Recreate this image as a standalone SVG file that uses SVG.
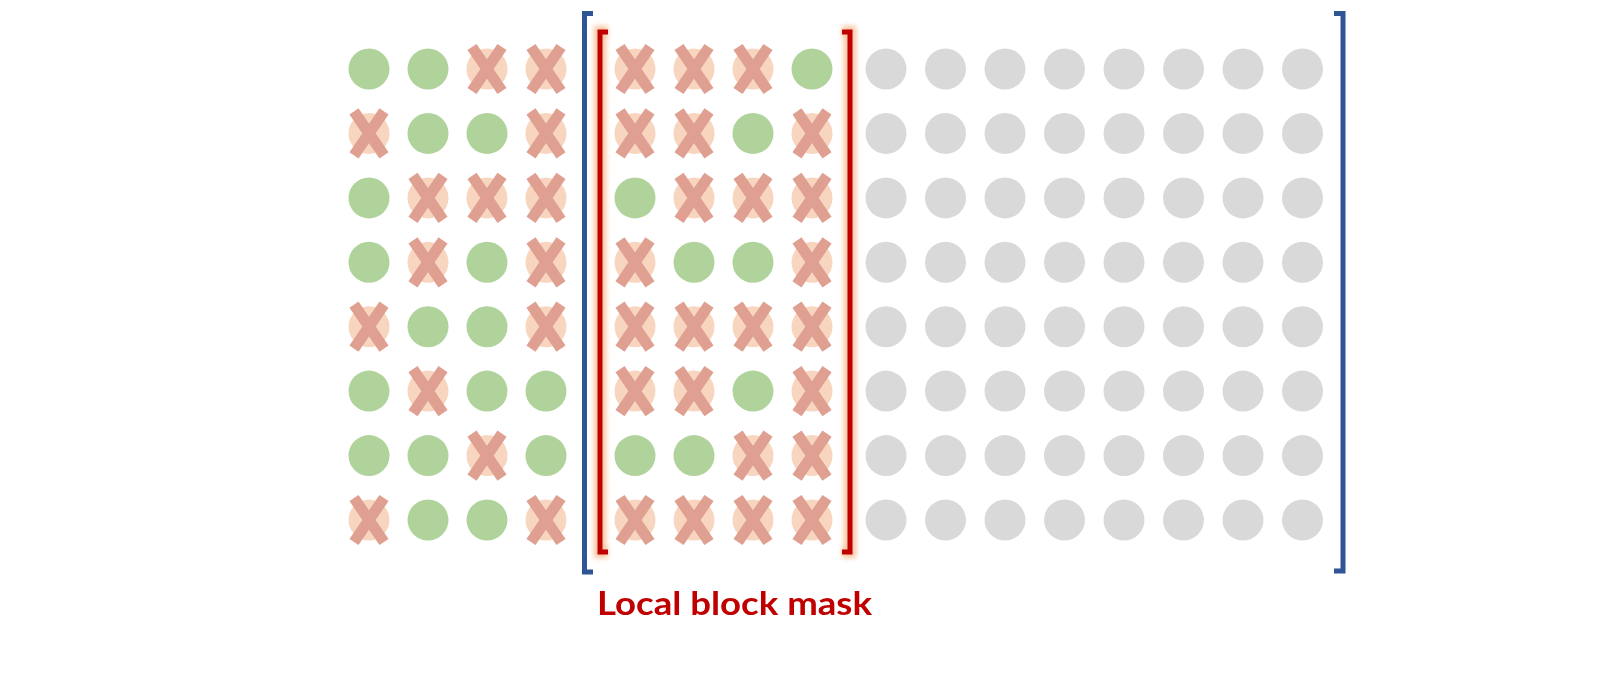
<svg xmlns="http://www.w3.org/2000/svg" xmlns:xlink="http://www.w3.org/1999/xlink" width="1600" height="700" viewBox="0 0 1600 700">
<style>
.blue{fill:none;stroke:#2F5597;stroke-width:5;stroke-linejoin:miter}
.red{fill:none;stroke:#C00000;stroke-width:5;stroke-linejoin:miter}
.glow{fill:none;stroke:#F8B98E;stroke-width:12;stroke-linejoin:miter;opacity:0.85}
.lbl{font-family:Lato,"Open Sans","Liberation Sans",sans-serif;font-weight:bold;font-size:33px;fill:#C00000}
</style>
<defs>
<filter id="blur" x="-50%" y="-5%" width="200%" height="110%"><feGaussianBlur stdDeviation="2.5"/></filter>
<g id="ok"><circle r="20.5" fill="#B0D39B"/></g>
<g id="no"><circle r="20.5" fill="#F8D5BE"/><path d="M-15,-22L15,22M15,-22L-15,22" stroke="#E0A091" stroke-width="11" fill="none"/></g>
<g id="gr"><circle r="20.5" fill="#D9D9D9"/></g>
</defs>
<rect width="1600" height="700" fill="#FFFFFF"/>

<g id="left-block">
<use id="L1c1" xlink:href="#ok" x="369" y="69"/><use id="L1c2" xlink:href="#ok" x="428" y="69"/><use id="L1c3" xlink:href="#no" x="487" y="69"/><use id="L1c4" xlink:href="#no" x="546" y="69"/>
<use id="L2c1" xlink:href="#no" x="369" y="133.4"/><use id="L2c2" xlink:href="#ok" x="428" y="133.4"/><use id="L2c3" xlink:href="#ok" x="487" y="133.4"/><use id="L2c4" xlink:href="#no" x="546" y="133.4"/>
<use id="L3c1" xlink:href="#ok" x="369" y="197.9"/><use id="L3c2" xlink:href="#no" x="428" y="197.9"/><use id="L3c3" xlink:href="#no" x="487" y="197.9"/><use id="L3c4" xlink:href="#no" x="546" y="197.9"/>
<use id="L4c1" xlink:href="#ok" x="369" y="262.3"/><use id="L4c2" xlink:href="#no" x="428" y="262.3"/><use id="L4c3" xlink:href="#ok" x="487" y="262.3"/><use id="L4c4" xlink:href="#no" x="546" y="262.3"/>
<use id="L5c1" xlink:href="#no" x="369" y="326.7"/><use id="L5c2" xlink:href="#ok" x="428" y="326.7"/><use id="L5c3" xlink:href="#ok" x="487" y="326.7"/><use id="L5c4" xlink:href="#no" x="546" y="326.7"/>
<use id="L6c1" xlink:href="#ok" x="369" y="391.1"/><use id="L6c2" xlink:href="#no" x="428" y="391.1"/><use id="L6c3" xlink:href="#ok" x="487" y="391.1"/><use id="L6c4" xlink:href="#ok" x="546" y="391.1"/>
<use id="L7c1" xlink:href="#ok" x="369" y="455.6"/><use id="L7c2" xlink:href="#ok" x="428" y="455.6"/><use id="L7c3" xlink:href="#no" x="487" y="455.6"/><use id="L7c4" xlink:href="#ok" x="546" y="455.6"/>
<use id="L8c1" xlink:href="#no" x="369" y="520"/><use id="L8c2" xlink:href="#ok" x="428" y="520"/><use id="L8c3" xlink:href="#ok" x="487" y="520"/><use id="L8c4" xlink:href="#no" x="546" y="520"/>
</g>

<g id="local-block">
<use id="M1c1" xlink:href="#no" x="635" y="69"/><use id="M1c2" xlink:href="#no" x="694" y="69"/><use id="M1c3" xlink:href="#no" x="753" y="69"/><use id="M1c4" xlink:href="#ok" x="812" y="69"/>
<use id="M2c1" xlink:href="#no" x="635" y="133.4"/><use id="M2c2" xlink:href="#no" x="694" y="133.4"/><use id="M2c3" xlink:href="#ok" x="753" y="133.4"/><use id="M2c4" xlink:href="#no" x="812" y="133.4"/>
<use id="M3c1" xlink:href="#ok" x="635" y="197.9"/><use id="M3c2" xlink:href="#no" x="694" y="197.9"/><use id="M3c3" xlink:href="#no" x="753" y="197.9"/><use id="M3c4" xlink:href="#no" x="812" y="197.9"/>
<use id="M4c1" xlink:href="#no" x="635" y="262.3"/><use id="M4c2" xlink:href="#ok" x="694" y="262.3"/><use id="M4c3" xlink:href="#ok" x="753" y="262.3"/><use id="M4c4" xlink:href="#no" x="812" y="262.3"/>
<use id="M5c1" xlink:href="#no" x="635" y="326.7"/><use id="M5c2" xlink:href="#no" x="694" y="326.7"/><use id="M5c3" xlink:href="#no" x="753" y="326.7"/><use id="M5c4" xlink:href="#no" x="812" y="326.7"/>
<use id="M6c1" xlink:href="#no" x="635" y="391.1"/><use id="M6c2" xlink:href="#no" x="694" y="391.1"/><use id="M6c3" xlink:href="#ok" x="753" y="391.1"/><use id="M6c4" xlink:href="#no" x="812" y="391.1"/>
<use id="M7c1" xlink:href="#ok" x="635" y="455.6"/><use id="M7c2" xlink:href="#ok" x="694" y="455.6"/><use id="M7c3" xlink:href="#no" x="753" y="455.6"/><use id="M7c4" xlink:href="#no" x="812" y="455.6"/>
<use id="M8c1" xlink:href="#no" x="635" y="520"/><use id="M8c2" xlink:href="#no" x="694" y="520"/><use id="M8c3" xlink:href="#no" x="753" y="520"/><use id="M8c4" xlink:href="#no" x="812" y="520"/>
</g>

<g id="future-block">
<g id="G1"><use xlink:href="#gr" x="886" y="69"/><use xlink:href="#gr" x="945.5" y="69"/><use xlink:href="#gr" x="1005" y="69"/><use xlink:href="#gr" x="1064.5" y="69"/><use xlink:href="#gr" x="1124" y="69"/><use xlink:href="#gr" x="1183.5" y="69"/><use xlink:href="#gr" x="1243" y="69"/><use xlink:href="#gr" x="1302.5" y="69"/></g>
<g id="G2"><use xlink:href="#gr" x="886" y="133.4"/><use xlink:href="#gr" x="945.5" y="133.4"/><use xlink:href="#gr" x="1005" y="133.4"/><use xlink:href="#gr" x="1064.5" y="133.4"/><use xlink:href="#gr" x="1124" y="133.4"/><use xlink:href="#gr" x="1183.5" y="133.4"/><use xlink:href="#gr" x="1243" y="133.4"/><use xlink:href="#gr" x="1302.5" y="133.4"/></g>
<g id="G3"><use xlink:href="#gr" x="886" y="197.9"/><use xlink:href="#gr" x="945.5" y="197.9"/><use xlink:href="#gr" x="1005" y="197.9"/><use xlink:href="#gr" x="1064.5" y="197.9"/><use xlink:href="#gr" x="1124" y="197.9"/><use xlink:href="#gr" x="1183.5" y="197.9"/><use xlink:href="#gr" x="1243" y="197.9"/><use xlink:href="#gr" x="1302.5" y="197.9"/></g>
<g id="G4"><use xlink:href="#gr" x="886" y="262.3"/><use xlink:href="#gr" x="945.5" y="262.3"/><use xlink:href="#gr" x="1005" y="262.3"/><use xlink:href="#gr" x="1064.5" y="262.3"/><use xlink:href="#gr" x="1124" y="262.3"/><use xlink:href="#gr" x="1183.5" y="262.3"/><use xlink:href="#gr" x="1243" y="262.3"/><use xlink:href="#gr" x="1302.5" y="262.3"/></g>
<g id="G5"><use xlink:href="#gr" x="886" y="326.7"/><use xlink:href="#gr" x="945.5" y="326.7"/><use xlink:href="#gr" x="1005" y="326.7"/><use xlink:href="#gr" x="1064.5" y="326.7"/><use xlink:href="#gr" x="1124" y="326.7"/><use xlink:href="#gr" x="1183.5" y="326.7"/><use xlink:href="#gr" x="1243" y="326.7"/><use xlink:href="#gr" x="1302.5" y="326.7"/></g>
<g id="G6"><use xlink:href="#gr" x="886" y="391.1"/><use xlink:href="#gr" x="945.5" y="391.1"/><use xlink:href="#gr" x="1005" y="391.1"/><use xlink:href="#gr" x="1064.5" y="391.1"/><use xlink:href="#gr" x="1124" y="391.1"/><use xlink:href="#gr" x="1183.5" y="391.1"/><use xlink:href="#gr" x="1243" y="391.1"/><use xlink:href="#gr" x="1302.5" y="391.1"/></g>
<g id="G7"><use xlink:href="#gr" x="886" y="455.6"/><use xlink:href="#gr" x="945.5" y="455.6"/><use xlink:href="#gr" x="1005" y="455.6"/><use xlink:href="#gr" x="1064.5" y="455.6"/><use xlink:href="#gr" x="1124" y="455.6"/><use xlink:href="#gr" x="1183.5" y="455.6"/><use xlink:href="#gr" x="1243" y="455.6"/><use xlink:href="#gr" x="1302.5" y="455.6"/></g>
<g id="G8"><use xlink:href="#gr" x="886" y="520"/><use xlink:href="#gr" x="945.5" y="520"/><use xlink:href="#gr" x="1005" y="520"/><use xlink:href="#gr" x="1064.5" y="520"/><use xlink:href="#gr" x="1124" y="520"/><use xlink:href="#gr" x="1183.5" y="520"/><use xlink:href="#gr" x="1243" y="520"/><use xlink:href="#gr" x="1302.5" y="520"/></g>
</g>

<g id="brackets">
<path class="blue" d="M593,13.5H584.5V572H593"/>
<path class="blue" d="M1334,13.5H1343V571H1334"/>
<g filter="url(#blur)">
<path class="glow" d="M608,32H600V552H608"/>
<path class="glow" d="M842,32H850V552H842"/>
</g>
<path class="red" d="M608,32H600V552H608"/>
<path class="red" d="M842,32H850V552H842"/>
</g>

<g id="label">
<text class="lbl" x="597" y="615" textLength="275" lengthAdjust="spacingAndGlyphs">Local block mask</text>
</g>
</svg>
